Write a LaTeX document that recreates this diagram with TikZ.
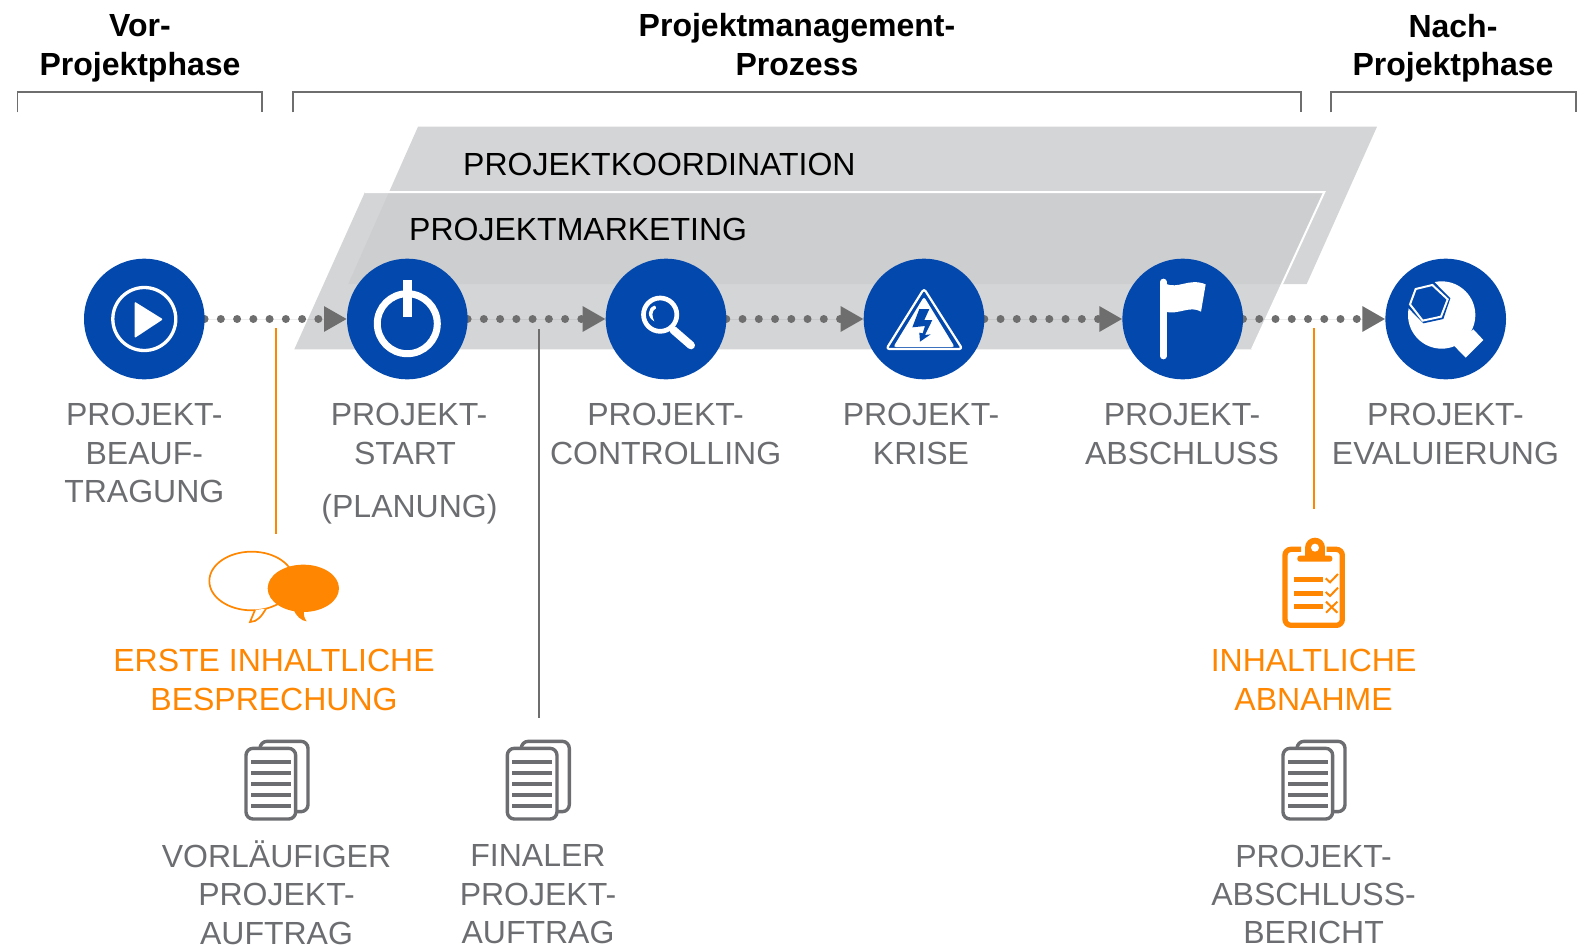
\documentclass[tikz,border=0pt]{standalone}
\usepackage{fontspec}
\setmainfont{Liberation Sans}
\usetikzlibrary{arrows.meta,backgrounds}
\definecolor{iconblue}{HTML}{0348AC}
\definecolor{txtgray}{HTML}{6C6D70}
\definecolor{linegray}{HTML}{6E6E6E}
\definecolor{accent}{HTML}{FF8600}
\definecolor{bandlight}{HTML}{D4D5D7}
\definecolor{banddark}{HTML}{CDCED0}
\tikzset{
  stepcircle/.style={circle,fill=iconblue,minimum size=120.6pt,inner sep=0pt,outer sep=0pt},
  lbl/.style={align=center,inner sep=0pt,font=\fontsize{32}{38.4}\selectfont,text=txtgray},
  lblorange/.style={lbl,text=accent},
  head/.style={align=center,inner sep=0pt,font=\fontsize{32}{38.4}\selectfont\bfseries,text=black},
  band/.style={align=left,inner sep=0pt,font=\fontsize{32}{38.4}\selectfont,text=black,anchor=west},
  bracket/.style={draw=linegray,line width=1.7pt},
  dotlink/.style={draw=linegray,fill=linegray,line width=8pt,line cap=round,dash pattern=on 0pt off 16.25pt,
    -{Triangle[length=23pt,width=24pt]}},
  zoomed/.style 2 args={shift={(#1,#2)},x=0.33333pt,y=-0.33333pt}
}
\newcommand{\docicon}[2]{%
  \begin{scope}[zoomed={#1}{#2},draw=txtgray,line width=3.4pt,line join=round]
    \draw[rounded corners=7pt,fill=white] (75,22) rectangle (219,233);
    \draw[rounded corners=7pt,fill=white] (33,43) rectangle (182,255);
    \foreach \yy in {85,118,150,183,215}{\draw[line width=3.7pt] (48,\yy) -- (167,\yy);}
  \end{scope}}
\begin{document}
\begin{tikzpicture}[x=1pt,y=-1pt]
\useasboundingbox (0,0) rectangle (1588,950);
% step circles
\node[stepcircle] (c1) at (144.3,319) {};
\node[stepcircle] (c2) at (407.3,319) {};
\node[stepcircle] (c3) at (666,319) {};
\node[stepcircle] (c4) at (924,319) {};
\node[stepcircle] (c5) at (1182.7,319) {};
\node[stepcircle] (c6) at (1445.7,319) {};
% bands and connectors behind
\begin{scope}[on background layer]
  \fill[bandlight] (418,126.7) -- (1377,126.7) -- (1306.7,284) -- (348.3,284) -- cycle;
  \fill[bandlight] (365,192) -- (1324.3,192) -- (1252,349.3) -- (294.3,349.3) -- cycle;
  \begin{scope}
    \clip (418,126.7) -- (1377,126.7) -- (1306.7,284) -- (348.3,284) -- cycle;
    \fill[banddark] (365,192) -- (1324.3,192) -- (1252,349.3) -- (294.3,349.3) -- cycle;
  \end{scope}
  \draw[white,line width=2pt,line join=miter] (365,192) -- (1324.3,192) -- (1252,349.3);
  \draw[dotlink] (c1.east) -- (c2.west);
  \draw[dotlink] (c2.east) -- (c3.west);
  \draw[dotlink] (c3.east) -- (c4.west);
  \draw[dotlink] (c4.east) -- (c5.west);
  \draw[dotlink] (c5.east) -- (c6.west);
\end{scope}
% brackets
\draw[bracket] (17.5,112.3) -- (17.5,92) -- (262,92) -- (262,112.3);
\draw[bracket] (292.7,112.3) -- (292.7,92) -- (1300.7,92) -- (1300.7,112.3);
\draw[bracket] (1330.7,112.3) -- (1330.7,92) -- (1576,92) -- (1576,112.3);
% headings
\node[head] (h1) at (140,48.5) {Vor-\\Projektphase};
\node[head] (h2) at (797,44.7) {Projektmanagement-\\Prozess};
\node[head] (h3) at (1453,48) {Nach-\\Projektphase};
\node[band] (b1) at (463,164) {PROJEKTKOORDINATION};
\node[band] (b2) at (409,229) {PROJEKTMARKETING};
% labels
\node[lbl] (l1) at (144.3,453) {PROJEKT-\\BEAUF-\\TRAGUNG};
\node[lbl] (l2) at (409,434) {PROJEKT-\\START\hspace*{8pt}};
\node[lbl] (l2b) at (409.5,509.5) {(PLANUNG)};
\node[lbl] (l3) at (665.6,434) {PROJEKT-\\CONTROLLING};
\node[lbl] (l4) at (921,434) {PROJEKT-\\KRISE};
\node[lbl] (l5) at (1182,434) {PROJEKT-\\ABSCHLUSS};
\node[lbl] (l6) at (1445.4,434) {PROJEKT-\\EVALUIERUNG};
\node[lblorange] (o1) at (274,680) {ERSTE INHALTLICHE\\BESPRECHUNG};
\node[lblorange] (o2) at (1313.6,680) {INHALTLICHE\\ABNAHME};
\node[lbl] (d1) at (276.5,892.5) {VORLÄUFIGER\\PROJEKT-\\AUFTRAG};
\node[lbl] (d2) at (538,894.5) {FINALER\\PROJEKT-\\AUFTRAG};
\node[lbl] (d3) at (1313.6,894.5) {PROJEKT-\\ABSCHLUSS-\\BERICHT};
% drop lines
\coordinate (t1) at (275.7,328); \coordinate (e1) at (275.7,534);
\coordinate (t2) at (538.5,329); \coordinate (e2) at (538.5,718.3);
\coordinate (t3) at (1313.7,328); \coordinate (e3) at (1313.7,508.5);
\draw[accent,line width=2pt] (t1) -- (e1);
\draw[linegray,line width=2pt] (t2) -- (e2);
\draw[accent,line width=2pt] (t3) -- (e3);
% play icon
\draw[white,line width=3.3pt] (c1.center) circle[radius=31.5pt];
\fill[white,rounded corners=1pt] (134.7,301.7) -- (163,319.3) -- (134.7,338) -- cycle;
% power icon
\draw[white,line width=7pt] (407.3,323.7) circle[radius=30pt];
\fill[white] (403.2,280) rectangle (411.5,317.3);
% magnifier and warning sign
\begin{scope}[zoomed={590}{240}]
  \draw[white,line width=4.7pt] (210.5,224) circle[radius=50];
  \draw[white,line width=8pt,line cap=round] (250,270) -- (303,316);
  \fill[white] (193,197) .. controls (172,205) and (170,232) .. (193,244) .. controls (186,232) and (183,212) .. (198,205) .. controls (199,202) and (197,198) .. (193,197) -- cycle;
  \draw[white,line width=2.2pt,line join=round,rounded corners=3pt] (1002,146) -- (889,327) -- (1117,327) -- cycle;
  \fill[white,rounded corners=2.5pt] (1002,170) -- (910,321) -- (1094,321) -- cycle;
  \fill[iconblue] (988,207) -- (1018,207) -- (1003,240) -- (1027,240) -- (1005,285) -- (1022,283) -- (990,305) -- (988,278) -- (998,280) -- (1005,258) -- (967,262) -- cycle;
\end{scope}
% flag and wrench
\begin{scope}[zoomed={1090}{240}]
  \draw[white,line width=6.7pt,line cap=round] (220,126) -- (220,348);
  \fill[white] (225,130) .. controls (265,150) and (295,112) .. (347,133) -- (333,215) .. controls (300,195) and (265,226) .. (225,215) -- cycle;
\end{scope}
\begin{scope}[zoomed={1395}{270}]
  \fill[white] (140,135) circle[radius=101];
  \fill[white] (235,178) -- (265,210) -- (212,263) -- (178,228) -- cycle;
  \fill[iconblue] (115,33) -- (166,85) -- (145,147) -- (85,160) -- (38,112) -- (20,50) -- (70,15) -- cycle;
  \draw[white,line width=2pt,line join=miter] (62,57) -- (112,45) -- (158,88) -- (138,140) -- (83,152) -- (45,103) -- cycle;
\end{scope}
% speech bubbles
\begin{scope}[zoomed={200}{546}]
  \draw[accent,line width=1.7pt] (155,105) ellipse[x radius=127,y radius=88];
  \draw[accent,line width=1.7pt,fill=white] (165,192) -- (150,228) .. controls (172,228) and (185,210) .. (198,188);
  \fill[accent] (310,127) ellipse[x radius=107,y radius=71];
  \fill[accent] (280,190) .. controls (288,210) and (305,225) .. (320,226) .. controls (312,215) and (310,205) .. (312,190) -- cycle;
\end{scope}
% clipboard
\begin{scope}[zoomed={1250}{525}]
  \draw[accent,line width=5.3pt,rounded corners=6pt] (153,73) -- (105,73) -- (105,301) -- (277,301) -- (277,73) -- (230,73);
  \fill[accent] (195,68) circle[radius=30];
  \fill[accent] (165,68) rectangle (225,100);
  \fill[accent,rounded corners=2.5pt] (142,92) rectangle (247,110);
  \fill[white] (195,68) circle[radius=12];
  \fill[accent] (132,157) rectangle (220,172);
  \fill[accent] (132,198) rectangle (220,212);
  \fill[accent] (132,238) rectangle (220,253);
  \draw[accent,line width=2pt] (227,160) -- (240,172) -- (264,147);
  \draw[accent,line width=2pt] (227,201) -- (240,213) -- (264,188);
  \draw[accent,line width=2pt] (228,230) -- (262,263) (262,230) -- (228,263);
\end{scope}
% documents
\docicon{235}{734}
\docicon{496.3}{734}
\docicon{1272}{734}
\end{tikzpicture}
\end{document}
